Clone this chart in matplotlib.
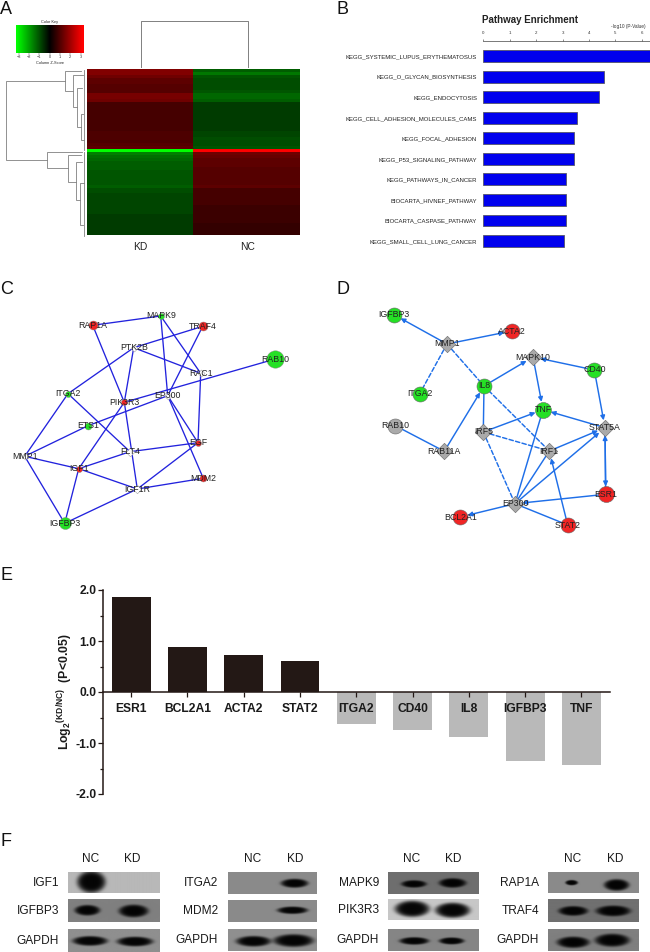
import numpy as np
import matplotlib
matplotlib.use('Agg')
import matplotlib.pyplot as plt
from matplotlib.colors import LinearSegmentedColormap

plt.rcParams['font.family'] = ['Liberation Sans', 'DejaVu Sans']
plt.rcParams['mathtext.fontset'] = 'custom'
plt.rcParams['mathtext.rm'] = 'Liberation Sans:bold'
plt.rcParams['mathtext.bf'] = 'Liberation Sans:bold'

W, H = 650, 952

# panel A: heatmap rows, z-scores
hm_kd = [1.5, 1.5, 1.3, 1.1, 1.1, 1.0, 1.0, 1.0, 1.4, 1.4, 1.3, 0.8, 0.8, 0.8, 0.8, 0.8, 0.8, 0.8, 0.8, 0.8,
         0.8, 0.9, 0.9, 0.9, 0.9, 1.0, 1.1,
         -3.0, -1.5, -1.3, -1.2, -1.1, -1.1, -1.1, -1.0, -1.0, -1.0, -1.0, -1.0, -1.1, -0.9, -0.9, -0.8, -0.8,
         -0.8, -0.8, -0.8, -0.8, -0.8, -0.7, -0.7, -0.7, -0.7, -0.7, -0.7, -0.7]
hm_nc = [-1.1, -1.4, -1.0, -0.9, -0.9, -0.9, -0.9, -1.0, -1.2, -1.2, -1.1, -0.7, -0.7, -0.7, -0.7, -0.7, -0.7,
         -0.7, -0.7, -0.7, -0.7, -0.8, -0.8, -0.9, -0.9, -0.9, -1.0,
         3.0, 1.3, 1.2, 1.1, 1.1, 1.1, 1.0, 1.0, 1.0, 1.0, 1.0, 1.0, 1.1, 0.8, 0.8, 0.8, 0.8, 0.8, 0.8, 0.7, 0.7,
         0.7, 0.7, 0.7, 0.7, 0.6, 0.6, 0.6, 0.6]
hm_cols = ['KD', 'NC']
key_ticks = [-3, -2, -1, 0, 1, 2, 3]

# panel B
path_names = ['KEGG_SYSTEMIC_LUPUS_ERYTHEMATOSUS', 'KEGG_O_GLYCAN_BIOSYNTHESIS', 'KEGG_ENDOCYTOSIS',
              'KEGG_CELL_ADHESION_MOLECULES_CAMS', 'KEGG_FOCAL_ADHESION', 'KEGG_P53_SIGNALING_PATHWAY',
              'KEGG_PATHWAYS_IN_CANCER', 'BIOCARTA_HIVNEF_PATHWAY', 'BIOCARTA_CASPASE_PATHWAY',
              'KEGG_SMALL_CELL_LUNG_CANCER']
path_vals = [6.35, 4.55, 4.38, 3.55, 3.45, 3.45, 3.12, 3.12, 3.12, 3.05]

# panel C network: name -> x, y, radius, colour
c_nodes = {'RAP1A': (92.7, 325.3, 4.5, 'r'), 'MAPK9': (160.7, 316, 3, 'g'), 'TRAF4': (202.7, 326.3, 4.5, 'r'),
           'PTK2B': (133.7, 347.7, 2.5, 'w'), 'RAB10': (275.3, 359, 8.7, 'g'), 'RAC1': (200.7, 373.3, 2.5, 'w'),
           'ITGA2': (68, 393.7, 3, 'g'), 'PIK3R3': (124.3, 402.3, 3, 'r'), 'EP300': (167.7, 395.7, 2.5, 'w'),
           'ETS1': (88, 425.7, 3.5, 'g'), 'EGF': (198, 442.7, 3, 'r'), 'FLT4': (130, 451.7, 3, 'w'),
           'MMP1': (24.7, 456.3, 2.5, 'w'), 'IGF1': (78.7, 468.7, 3, 'r'), 'MDM2': (203.3, 478.3, 3.5, 'r'),
           'IGF1R': (137.3, 489, 3, 'w'), 'IGFBP3': (64.7, 523.3, 6, 'g')}
c_edges = [('RAP1A', 'MAPK9'), ('RAP1A', 'PIK3R3'), ('MAPK9', 'EP300'), ('MAPK9', 'RAC1'), ('TRAF4', 'PTK2B'),
           ('TRAF4', 'EP300'), ('PTK2B', 'RAC1'), ('PTK2B', 'ITGA2'), ('PTK2B', 'PIK3R3'), ('RAB10', 'PIK3R3'),
           ('RAC1', 'EGF'), ('ITGA2', 'MMP1'), ('ITGA2', 'FLT4'), ('PIK3R3', 'IGF1'), ('PIK3R3', 'IGF1R'),
           ('EP300', 'ETS1'), ('ETS1', 'MMP1'), ('EP300', 'EGF'), ('EP300', 'MDM2'),
           ('EGF', 'FLT4'), ('EGF', 'IGF1R'), ('FLT4', 'IGF1'), ('MMP1', 'IGF1'), ('MMP1', 'IGFBP3'),
           ('IGF1', 'IGF1R'), ('IGF1', 'IGFBP3'), ('IGF1R', 'MDM2'), ('IGF1R', 'IGFBP3')]

# panel D network
d_nodes = {'IGFBP3': (394, 314.7, 7.5, 'g'), 'ACTA2': (511.7, 331, 7.5, 'r'), 'MMP1': (447, 344, 7.5, 'd'),
           'MAPK10': (533, 357, 7.5, 'd'), 'CD40': (594.3, 370, 7.5, 'g'), 'IL8': (484, 386, 7.5, 'g'),
           'ITGA2': (419.7, 393.7, 7.5, 'g'), 'TNF': (543, 409.7, 8, 'g'), 'RAB10': (395.3, 425.7, 7.5, 'y'),
           'IRF5': (483.3, 432, 7.5, 'd'), 'STAT5A': (605, 427.7, 7.5, 'd'), 'RAB11A': (444.3, 451.3, 7.5, 'd'),
           'IRF1': (549.3, 451, 7.5, 'd'), 'ESR1': (605.7, 494.3, 8, 'r'), 'EP300': (515, 503.7, 7.5, 'd'),
           'BCL2A1': (460.3, 517, 7.5, 'r'), 'STAT2': (567.7, 525, 7.5, 'r')}
# from, to, dashed, arrow at end
d_edges = [('MMP1', 'IGFBP3', 0, 1), ('MMP1', 'ACTA2', 0, 1), ('MMP1', 'ITGA2', 1, 0), ('MMP1', 'IL8', 1, 0),
           ('IL8', 'MAPK10', 0, 1), ('CD40', 'MAPK10', 0, 1), ('MAPK10', 'TNF', 0, 1), ('CD40', 'STAT5A', 0, 1),
           ('STAT5A', 'TNF', 0, 1), ('IL8', 'IRF5', 0, 0), ('IL8', 'IRF1', 1, 0), ('RAB10', 'RAB11A', 0, 0),
           ('RAB11A', 'IL8', 0, 1), ('IRF5', 'TNF', 0, 1), ('IRF5', 'IRF1', 1, 0), ('IRF5', 'EP300', 1, 0),
           ('IRF1', 'STAT5A', 0, 1), ('STAT5A', 'ESR1', 0, 1), ('ESR1', 'STAT5A', 0, 1), ('TNF', 'EP300', 0, 0),
           ('IRF1', 'EP300', 0, 0), ('EP300', 'STAT5A', 0, 1), ('ESR1', 'EP300', 0, 1), ('EP300', 'BCL2A1', 0, 1),
           ('EP300', 'STAT2', 0, 0), ('STAT2', 'IRF1', 0, 1)]

# panel E
gene_names = ['ESR1', 'BCL2A1', 'ACTA2', 'STAT2', 'ITGA2', 'CD40', 'IL8', 'IGFBP3', 'TNF']
gene_fc = [1.86, 0.88, 0.72, 0.61, -0.62, -0.75, -0.89, -1.36, -1.44]

# panel F: label, row top, row bottom, background, bands (x centre, width, height, y centre)
blot_groups = [
    (68.3, 159.3, 91, 132.7, 59, [
        ('IGF1', 871.7, 893.3, 0.72, [(91.3, 27, 21, 882.3)]),
        ('IGFBP3', 899, 922, 0.50, [(87.3, 24, 10, 910), (133.3, 28, 12, 910.7)]),
        ('GAPDH', 929.3, 951.7, 0.56, [(90, 33, 9, 940.7), (134.7, 34, 9, 941.3)])]),
    (228, 316.7, 253, 295, 218, [
        ('ITGA2', 872.3, 894, 0.54, [(294.3, 26, 8.5, 883.3)]),
        ('MDM2', 900, 922, 0.54, [(292.3, 29, 7, 910)]),
        ('GAPDH', 928.7, 950.7, 0.56, [(253.3, 33, 10, 940.7), (293.3, 38, 12, 940)])]),
    (388.3, 479.3, 412, 453.7, 379, [
        ('MAPK9', 872.3, 894, 0.43, [(414, 24, 7, 884), (452.7, 26, 9, 883)]),
        ('PIK3R3', 899, 920.3, 0.78, [(412.3, 33, 15, 909.3), (452.7, 33, 14, 910.7)]),
        ('GAPDH', 929.3, 950.7, 0.52, [(414.3, 28, 7, 940.7), (451.7, 24, 6.5, 940.7)])]),
    (548.3, 639, 573, 615, 539, [
        ('RAP1A', 872.3, 893.3, 0.54, [(571.7, 12, 5, 882.7), (616.7, 24, 11, 885)]),
        ('TRAF4', 899.3, 921.7, 0.44, [(573.3, 28, 9, 910.7), (613.3, 33, 10, 910.7)]),
        ('GAPDH', 929.3, 950.7, 0.50, [(573.3, 31, 10.5, 942), (612.3, 33, 12, 940)])]),
]


def ax_px(x0, y0, x1, y1):
    return fig.add_axes([x0 / W, 1 - y1 / H, (x1 - x0) / W, (y1 - y0) / H])


fig = plt.figure(figsize=(6.5, 9.52), dpi=100)
rg = LinearSegmentedColormap.from_list('rg', ['#00ff00', '#000000', '#ff0000'])

# A heatmap
ax = ax_px(87, 69, 300, 235)
ax.imshow(np.array([hm_kd, hm_nc]).T, cmap=rg, vmin=-3, vmax=3, aspect='auto', interpolation='nearest')
ax.axis('off')

ax = ax_px(16, 25, 84, 52.7)
ax.imshow(np.linspace(-3.26, 3.32, 200)[None, :], cmap=rg, vmin=-3.2, vmax=3.2, aspect='auto',
          extent=[-3.26, 3.32, 0, 1])
ax.set_yticks([])
ax.set_xticks(key_ticks)
ax.tick_params(axis='x', labelsize=2.8, length=1.2, width=0.3, pad=0.8, colors='#333333')
ax.set_xlabel('Column Z-Score', fontsize=2.8, labelpad=0.8, color='#222222')
ax.set_title('Color Key', fontsize=2.8, pad=1.5, color='#222222')
for s in ax.spines.values():
    s.set_visible(False)

# B bars
ax = ax_px(483.3, 41.3, 650, 256)
ax.barh(range(len(path_vals)), path_vals, height=0.58, color='#0000ee', edgecolor='#55556a', linewidth=0.6)
ax.set_xlim(0, 6.31)
ax.set_ylim(9.73, -0.73)
ax.set_yticks(range(len(path_names)))
ax.set_yticklabels(path_names, fontsize=4.35, color='#222222')
ax.xaxis.tick_top()
ax.set_xticks(range(7))
ax.tick_params(axis='x', labelsize=3.2, length=1.5, width=0.4, pad=3, colors='#333333')
ax.tick_params(axis='y', length=0, pad=4.5)
for k in ['left', 'right', 'bottom']:
    ax.spines[k].set_visible(False)
ax.spines['top'].set_linewidth(0.5)
ax.spines['top'].set_color('#444444')
ax.spines['top'].set_bounds(0, 6.31)

# E bars
ax = ax_px(103, 590, 609.6, 794)
# set_position resets the ticks, so it goes first
ax.spines['bottom'].set_position(('data', 0))
bar_cols = ['#231815' if v > 0 else '#b9b9b9' for v in gene_fc]
ax.bar(range(len(gene_fc)), gene_fc, width=0.69, color=bar_cols)
ax.set_xlim(-0.5, 8.5)
ax.set_ylim(-2, 2)
ax.set_xticks(range(len(gene_names)))
ax.set_xticklabels(gene_names)
ax.set_yticks([-2, -1, 0, 1, 2])
ax.set_yticklabels(['-2.0', '-1.0', '0.0', '1.0', '2.0'])
ax.set_yticks([-1.5, -0.5, 0.5, 1.5], minor=True)
ax.tick_params(axis='y', which='major', length=3.6, width=0.9, pad=1, color='#231815')
ax.tick_params(axis='y', which='minor', length=2.2, width=0.9, color='#231815')
ax.tick_params(axis='x', length=3.6, width=0.9, direction='out', pad=4, color='#231815')
for lab in ax.get_xticklabels() + ax.get_yticklabels():
    lab.set_fontweight('bold')
    lab.set_fontsize(8.7)
    lab.set_color('#1a1a1a')
for k in ['top', 'right']:
    ax.spines[k].set_visible(False)
ax.spines['left'].set_linewidth(1.1)
ax.spines['left'].set_color('#231815')
ax.spines['bottom'].set_linewidth(1.1)
ax.spines['bottom'].set_color('#231815')
ax.patch.set_alpha(0)

# F blots
for x0, x1, x_nc, x_kd, x_lab, rows in blot_groups:
    for name, y0, y1, bg, bands in rows:
        ax = ax_px(x0, y0, x1, y1)
        xx, yy = np.meshgrid(np.arange(x0, x1, 0.5), np.arange(y0, y1, 0.5))
        img = np.full(xx.shape, bg)
        for cx, bw, bh, cy in bands:
            r2 = ((xx - cx) / (bw / 2)) ** 2 + ((yy - cy) / (bh / 2)) ** 2
            img = img * (1 - 0.97 * np.exp(-(r2 / 1.1) ** 3))
        ax.imshow(img, cmap='gray', vmin=0, vmax=1, aspect='auto', interpolation='bilinear')
        ax.axis('off')

# everything else is drawn in picture coordinates
ov = ax_px(0, 0, W, H)
ov.set_xlim(0, W)
ov.set_ylim(H, 0)
ov.axis('off')
ov.patch.set_alpha(0)

# dendrograms
den_col = '#808080'
top_den = [(140.5, 67), (140.5, 20.5), (247.5, 20.5), (247.5, 67)]
ov.plot(*zip(*top_den), color=den_col, lw=0.7)
left_den = [[(64.5, 80.7), (6, 80.7), (6, 159.7), (46.7, 159.7)],
            [(81, 71), (64.5, 71), (64.5, 90.7), (73, 90.7)],
            [(83, 75), (73, 75), (73, 107), (77, 107)],
            [(82, 88), (77, 88), (77, 127), (81, 127)],
            [(83, 114), (81, 114), (81, 140), (84, 140)],
            [(84, 70), (84, 150)],
            [(82, 151.7), (46.7, 151.7), (46.7, 168), (68, 168)],
            [(81, 155), (68, 155), (68, 182), (76, 182)],
            [(82, 162), (76, 162), (76, 200), (80, 200)],
            [(84, 183), (80, 183), (80, 225), (83, 225)],
            [(84, 152), (84, 236)]]
for seg in left_den:
    ov.plot(*zip(*seg), color=den_col, lw=0.6, solid_joinstyle='miter')

for lab, x in zip(hm_cols, [140.7, 247.7]):
    ov.text(x, 247, lab, fontsize=7.4, ha='center', va='center', color='#222222')

ov.text(482, 19.7, 'Pathway Enrichment', fontsize=7, fontweight='bold', va='center', color='#222222')
ov.text(646, 26.5, '-log10 (P-Value)', fontsize=3.4, ha='right', va='center', color='#333333')

# C network
node_col = {'r': '#f02525', 'g': '#25e025', 'w': '#ffffff', 'd': '#aaaaaa', 'y': '#aaaaaa'}
for a, b in c_edges:
    ov.plot([c_nodes[a][0], c_nodes[b][0]], [c_nodes[a][1], c_nodes[b][1]], color='#2222dd', lw=0.95, zorder=2)
for name, (x, y, r, c) in c_nodes.items():
    ov.scatter([x], [y], s=(2 * r * 0.72) ** 2, color=node_col[c], marker='D' if c == 'w' else 'o',
               edgecolors='#888888', linewidths=0.3, zorder=3)
    ov.text(x, y, name, fontsize=6.3, ha='center', va='center', color='#222222', zorder=4)

# D network
for a, b, dashed, arrow in d_edges:
    pa, pb = d_nodes[a], d_nodes[b]
    ov.annotate('', xy=pb[:2], xytext=pa[:2],
                arrowprops=dict(arrowstyle='-|>' if arrow else '-', color='#1f6fe8', lw=1.05,
                                linestyle=(0, (3, 1.6)) if dashed else '-', mutation_scale=6.5,
                                shrinkA=0, shrinkB=pb[2] * 0.72 if arrow else 0), zorder=2)
for name, (x, y, r, c) in d_nodes.items():
    if c == 'd':
        ov.scatter([x], [y], s=(1.55 * r * 0.72) ** 2, color=node_col[c], marker='D', edgecolors='#666666',
                   linewidths=0.4, zorder=3)
    else:
        ov.scatter([x], [y], s=(2 * r * 0.72) ** 2, color=node_col[c], edgecolors='#666666', linewidths=0.4, zorder=3)
    ov.text(x, y, name, fontsize=6.3, ha='center', va='center', color='#222222', zorder=4)

# E axis label
ov.text(65, 691.7, r'Log$_{\mathbf{2}}$$^{\mathbf{(KD/NC)}}$  (P<0.05)', fontsize=8.8, fontweight='bold',
        rotation=90, ha='center', va='center', color='#1a1a1a')

# F labels
for x0, x1, x_nc, x_kd, x_lab, rows in blot_groups:
    ov.text(x_nc, 859.5, 'NC', fontsize=8.6, ha='center', va='center', color='#1a1a1a')
    ov.text(x_kd, 859.5, 'KD', fontsize=8.6, ha='center', va='center', color='#1a1a1a')
    for name, y0, y1, bg, bands in rows:
        ov.text(x_lab, (y0 + y1) / 2, name, fontsize=8.6, ha='right', va='center', color='#1a1a1a')

# panel letters
for lab, x, y in [('A', 0, 9), ('B', 337, 9), ('C', 0, 290), ('D', 337, 290), ('E', 0, 575), ('F', 0, 841)]:
    ov.text(x, y, lab, fontsize=13, ha='left', va='center', color='#111111')

fig.savefig('out.png', dpi=100)
